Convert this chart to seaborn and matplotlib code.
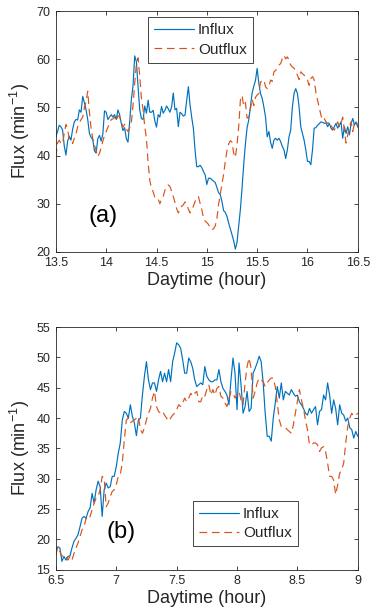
import numpy as np
import pandas as pd
import matplotlib
matplotlib.use("Agg")
import matplotlib.pyplot as plt
import seaborn as sns
from matplotlib.ticker import FuncFormatter

# panel (a): one value per minute, 13.5 h -> 16.5 h
inicio_a = 13.5
influx_a = [43.9, 45.0, 46.3, 46.0, 45.3, 42.0, 40.1, 43.0, 44.0, 43.2,
            45.5, 47.0, 47.5, 47.4, 49.5, 49.0, 52.3, 51.0, 49.5, 47.5,
            44.6, 43.8, 43.3, 41.0, 40.5, 43.5, 44.2, 43.0, 44.5, 49.3,
            49.0, 47.5, 48.0, 48.5, 48.0, 48.5, 47.5, 49.5, 48.5, 46.7,
            45.2, 45.8, 43.5, 42.8, 47.0, 51.6, 54.5, 60.7, 59.5, 54.3,
            49.5, 47.7, 47.5, 50.3, 48.8, 51.5, 49.0, 49.0, 49.4, 47.2,
            45.9, 48.5, 48.0, 50.2, 48.8, 49.4, 50.3, 49.7, 49.0, 50.1,
            53.0, 49.5, 49.8, 46.0, 49.0, 48.7, 48.2, 48.4, 51.5, 54.3,
            50.5, 47.9, 45.6, 41.0, 37.7, 37.7, 38.0, 37.5, 36.7, 36.0,
            34.0, 35.3, 35.3, 35.0, 34.7, 34.4, 33.4, 32.3, 31.9, 30.5,
            28.6, 28.2, 27.4, 26.0, 24.8, 23.6, 22.3, 20.6, 22.0, 25.3,
            28.8, 33.3, 38.2, 42.4, 45.8, 47.4, 50.2, 53.0, 54.4, 55.6,
            58.1, 55.0, 52.9, 51.9, 50.1, 48.0, 43.9, 45.0, 42.8, 41.5,
            43.2, 43.6, 43.2, 43.6, 42.9, 41.9, 41.2, 39.4, 41.2, 43.9,
            45.3, 50.1, 52.9, 53.9, 52.9, 50.1, 46.0, 44.6, 43.2, 41.2,
            38.8, 38.8, 38.1, 41.2, 45.7, 45.8, 46.3, 46.6, 47.0, 46.9,
            46.7, 46.8, 46.0, 46.7, 45.7, 45.3, 46.0, 46.7, 45.7, 46.3,
            47.0, 43.6, 46.0, 44.6, 46.0, 44.3, 46.7, 47.7, 46.3, 47.0,
            45.9]
outflux_a = [39.8, 42.6, 43.2, 42.5, 42.5, 44.6, 46.5, 45.5, 43.5, 43.5,
             42.5, 43.6, 44.5, 46.0, 46.8, 47.5, 48.0, 50.0, 51.2, 53.4,
             49.0, 45.7, 43.5, 42.2, 41.0, 39.8, 40.5, 41.6, 43.0, 44.2,
             45.0, 45.9, 46.6, 47.5, 47.6, 48.0, 47.2, 48.3, 48.0, 47.1,
             45.9, 46.5, 45.5, 45.0, 45.8, 46.8, 50.5, 55.0, 59.0, 60.3,
             56.5, 52.0, 49.5, 46.0, 43.5, 38.5, 34.8, 33.2, 32.5, 31.3,
             31.3, 31.0, 30.0, 31.0, 31.5, 32.8, 33.6, 33.9, 33.6, 32.6,
             31.5, 30.3, 29.0, 28.1, 28.7, 29.5, 29.8, 30.4, 29.9, 28.9,
             28.1, 28.8, 29.5, 30.5, 31.1, 31.5, 30.1, 28.8, 27.0, 26.4,
             26.1, 25.7, 25.0, 24.6, 24.8, 25.4, 27.0, 29.8, 32.0, 34.1,
             36.1, 38.8, 41.0, 42.4, 43.1, 42.8, 40.5, 39.6, 42.3, 46.0,
             51.5, 52.5, 50.3, 51.0, 47.8, 48.0, 49.7, 51.7, 50.4, 52.1,
             52.6, 52.9, 55.3, 55.4, 55.7, 54.3, 53.9, 54.3, 55.7, 55.4,
             57.4, 57.7, 58.1, 58.8, 59.1, 60.1, 60.8, 60.1, 60.5, 59.8,
             58.8, 58.4, 58.1, 57.7, 56.7, 55.8, 57.4, 57.0, 56.7, 56.4,
             55.7, 54.6, 56.0, 56.4, 55.7, 53.2, 51.5, 50.1, 48.4, 47.4,
             47.7, 47.0, 46.7, 47.0, 46.3, 45.7, 45.3, 46.0, 47.0, 46.0,
             46.7, 48.0, 45.3, 42.6, 44.3, 46.0, 47.0, 45.0, 46.7, 47.0,
             46.3]

# panel (b): one value per minute, 6.5 h -> 9 h
inicio_b = 6.5
influx_b = [18.3, 18.8, 18.6, 16.4, 17.2, 16.6, 17.2, 17.3, 18.6, 19.7,
            20.2, 20.8, 22.1, 23.5, 23.8, 23.5, 24.6, 25.2, 27.6, 26.0,
            28.2, 29.6, 28.7, 23.8, 28.2, 29.3, 28.5, 28.7, 30.4, 30.4,
            32.0, 34.2, 35.9, 39.7, 41.1, 40.8, 40.0, 42.2, 40.3, 39.2,
            37.1, 39.7, 40.0, 43.8, 46.9, 49.3, 46.3, 44.7, 45.8, 45.8,
            44.4, 46.3, 47.7, 46.0, 47.4, 46.0, 48.0, 46.0, 49.3, 50.7,
            52.4, 52.1, 51.5, 49.6, 47.4, 47.4, 49.9, 49.3, 48.2, 46.3,
            45.2, 45.5, 45.8, 45.5, 48.5, 46.9, 46.3, 46.0, 46.0, 46.3,
            46.3, 48.0, 46.0, 44.9, 44.4, 43.8, 42.2, 46.3, 49.9, 47.4,
            41.4, 49.1, 45.5, 40.8, 41.9, 44.4, 41.1, 41.6, 47.4, 48.2,
            49.1, 50.2, 49.3, 45.8, 40.8, 37.0, 37.0, 36.2, 40.0, 42.5,
            45.2, 43.3, 45.8, 43.0, 44.4, 44.1, 43.8, 44.7, 44.1, 43.6,
            43.8, 42.7, 42.2, 41.6, 40.8, 40.5, 41.6, 40.8, 41.4, 41.9,
            38.9, 41.1, 41.4, 43.8, 43.0, 45.8, 43.8, 40.8, 43.0, 41.6,
            38.9, 42.2, 40.8, 40.5, 39.5, 40.0, 38.4, 38.1, 36.7, 37.8,
            37.0]
outflux_b = [17.5, 18.8, 18.0, 17.2, 17.5, 17.2, 16.6, 17.2, 16.6, 17.7,
             18.6, 19.4, 20.5, 21.6, 22.1, 23.5, 23.2, 23.8, 24.9, 26.0,
             26.8, 27.1, 28.2, 30.4, 30.1, 25.4, 26.0, 27.1, 27.9, 28.2,
             29.0, 30.4, 30.7, 32.6, 36.4, 39.7, 40.0, 39.2, 39.5, 39.7,
             40.0, 40.3, 38.1, 37.5, 38.4, 39.7, 40.8, 41.6, 43.3, 44.4,
             41.9, 41.1, 40.8, 41.1, 40.5, 40.0, 39.5, 40.0, 40.5, 40.8,
             41.4, 42.2, 41.9, 42.5, 43.3, 42.7, 43.3, 44.1, 43.6, 44.1,
             44.4, 42.7, 42.7, 43.8, 43.6, 44.7, 45.5, 43.8, 44.7, 43.8,
             44.9, 45.2, 43.6, 43.3, 42.5, 41.9, 43.3, 44.4, 44.1, 43.3,
             43.8, 44.4, 43.0, 42.2, 45.8, 48.5, 49.9, 48.2, 43.3, 44.4,
             45.8, 46.6, 46.3, 46.0, 45.2, 45.8, 46.3, 46.6, 46.6, 45.2,
             42.5, 39.7, 38.6, 38.6, 38.4, 38.1, 37.8, 37.5, 38.9, 40.8,
             42.7, 44.7, 43.0, 41.6, 39.7, 38.1, 35.6, 35.6, 35.9, 35.9,
             35.6, 34.5, 35.1, 35.3, 34.5, 32.6, 30.4, 30.4, 29.8, 27.4,
             29.0, 30.9, 31.5, 32.6, 35.9, 38.6, 40.0, 40.8, 40.3, 40.5,
             40.8]

AZUL = '#0072BD'
LARANJA = '#D95319'
CINZA = '#262626'


def monta_df(inicio, entrada, saida):
    t = inicio + np.arange(len(entrada)) / 60.0
    return pd.DataFrame({'hora': t, 'Influx': entrada, 'Outflux': saida})


def painel(ax, df, xlim, ylim, xt, yt, letra, pos_letra, pos_leg):
    sns.lineplot(data=df, x='hora', y='Influx', ax=ax, color=AZUL,
                 linewidth=0.85, label='Influx')
    sns.lineplot(data=df, x='hora', y='Outflux', ax=ax, color=LARANJA,
                 linewidth=0.85, linestyle=(0, (6.5, 4)), label='Outflux')
    ax.set_xlim(*xlim)
    ax.set_ylim(*ylim)
    ax.set_xticks(xt)
    ax.set_yticks(yt)
    ax.xaxis.set_major_formatter(FuncFormatter(lambda v, p: f'{v:g}'))
    ax.tick_params(direction='in', length=3, width=0.6, top=True, right=True,
                   labelsize=9, colors=CINZA, pad=4)
    for s in ax.spines.values():
        s.set_color(CINZA)
        s.set_linewidth(0.6)
        s.set_visible(True)
    ax.set_xlabel('Daytime (hour)', fontsize=13, color=CINZA, labelpad=2)
    ax.set_ylabel('Flux (min$^{-1}$)', fontsize=13, color=CINZA, labelpad=3)
    ax.text(pos_letra[0], pos_letra[1], letra, fontsize=17, va='center',
            ha='left', color='black')
    leg = ax.legend(loc='upper left', bbox_to_anchor=pos_leg, fontsize=11,
                    frameon=True, fancybox=False, framealpha=1,
                    edgecolor=CINZA, borderpad=0.4, labelspacing=0.35,
                    handlelength=2.6, handletextpad=0.28, borderaxespad=0)
    leg.get_frame().set_linewidth(0.6)


sns.set_style("ticks")
plt.rcParams['font.family'] = ['Liberation Sans', 'DejaVu Sans']
plt.rcParams['mathtext.fontset'] = 'custom'
plt.rcParams['mathtext.rm'] = 'Liberation Sans'

fig = plt.figure(figsize=(3.70, 6.16), dpi=100)
ax1 = fig.add_axes([0.151, 0.591, 0.816, 0.391])
ax2 = fig.add_axes([0.151, 0.075, 0.816, 0.394])

painel(ax1, monta_df(inicio_a, influx_a, outflux_a), (13.5, 16.5), (20, 70),
       np.arange(13.5, 16.51, 0.5), np.arange(20, 71, 10), '(a)',
       (13.82, 27.4), (0.305, 0.975))
painel(ax2, monta_df(inicio_b, influx_b, outflux_b), (6.5, 9), (15, 55),
       np.arange(6.5, 9.01, 0.5), np.arange(15, 56, 5), '(b)',
       (6.92, 21.3), (0.454, 0.284))

fig.savefig('out.png', dpi=100)
